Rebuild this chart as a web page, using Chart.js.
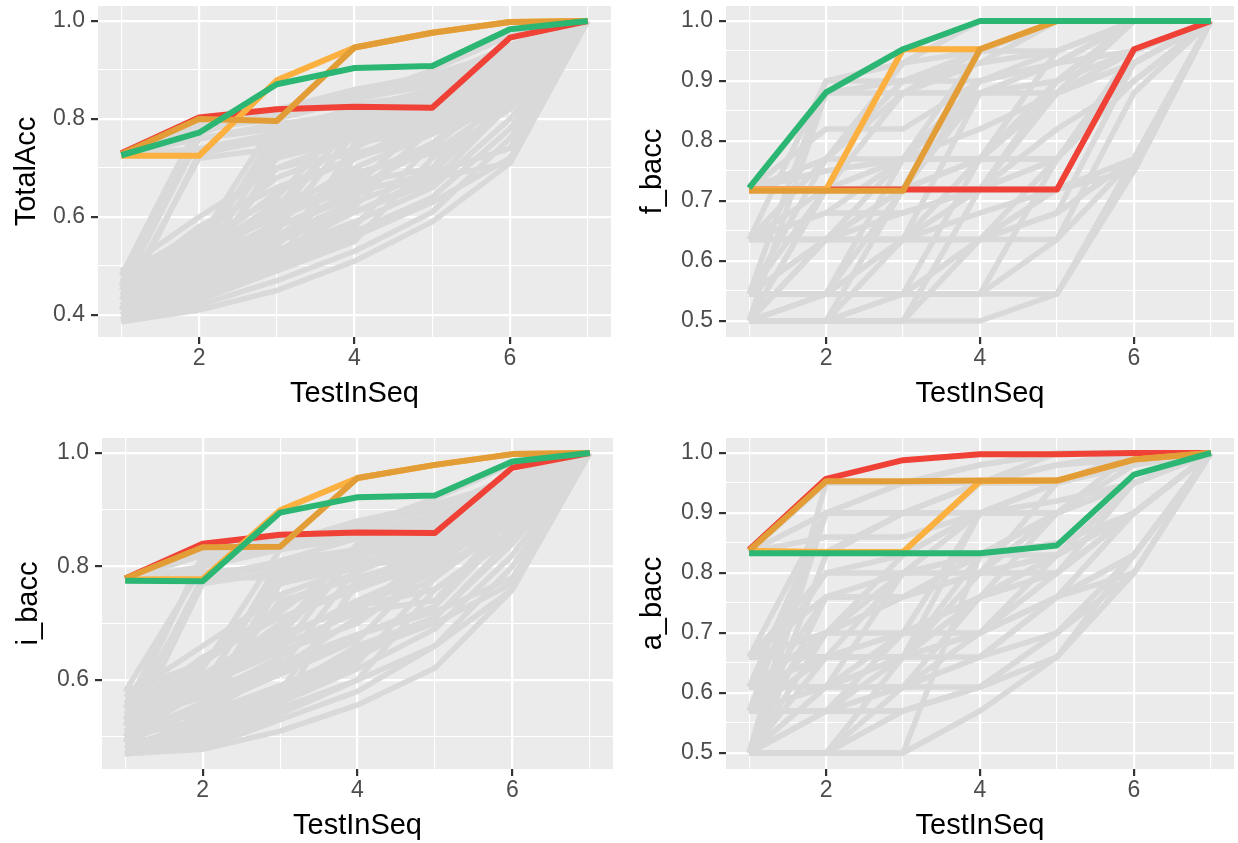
<!DOCTYPE html>
<html><head><meta charset="utf-8">
<script src="https://cdn.jsdelivr.net/npm/chart.js@4.4.1/dist/chart.umd.min.js"></script>
<style>
html,body{margin:0;padding:0;background:#ffffff;}
#wrap{position:relative;width:1238px;height:843px;overflow:hidden;}
canvas{position:absolute;}
</style></head><body><div id="wrap">
<canvas id="c1" width="619" height="421" style="left:0px;top:0px;width:619px;height:421px"></canvas>
<canvas id="c2" width="619" height="421" style="left:619px;top:0px;width:619px;height:421px"></canvas>
<canvas id="c3" width="619" height="422" style="left:0px;top:421px;width:619px;height:422px"></canvas>
<canvas id="c4" width="619" height="422" style="left:619px;top:421px;width:619px;height:422px"></canvas>
</div>
<script>
// ---------- shared axis data ----------
const testInSeq = [1, 2, 3, 4, 5, 6, 7];
const xTickValues = [1, 2, 3, 4, 5, 6, 7];
const xTickLabels = ['', '2', '', '4', '', '6', ''];
const xTitle = 'TestInSeq';

// ---------- TotalAcc ----------
const totalAccTicks = [0.4, 0.5, 0.6, 0.7, 0.8, 0.9, 1.0];
const totalAccTickLabels = ['0.4', '', '0.6', '', '0.8', '', '1.0'];
const totalAccRed = [0.730, 0.803, 0.820, 0.825, 0.823, 0.966, 1.0];
const totalAccLightOrange = [0.725, 0.725, 0.879, 0.946, 0.976, 0.998, 1.0];
const totalAccDarkOrange = [0.728, 0.800, 0.796, 0.946, 0.976, 0.998, 1.0];
const totalAccGreen = [0.726, 0.772, 0.871, 0.904, 0.908, 0.983, 1.0];
const totalAccGrey = [
  [0.725,0.76,0.79,0.81,0.85,0.93,1],
  [0.725,0.74,0.77,0.80,0.82,0.89,1],
  [0.73,0.78,0.80,0.86,0.88,0.95,1],
  [0.725,0.73,0.76,0.79,0.81,0.84,1],
  [0.73,0.79,0.82,0.84,0.90,0.97,1],
  [0.45,0.76,0.78,0.80,0.86,0.93,1],
  [0.48,0.79,0.80,0.84,0.87,0.95,1],
  [0.41,0.73,0.76,0.78,0.81,0.87,1],
  [0.43,0.72,0.74,0.77,0.79,0.85,1],
  [0.46,0.77,0.82,0.86,0.89,0.94,1],
  [0.46,0.79,0.81,0.83,0.85,0.92,1],
  [0.39,0.46,0.73,0.76,0.80,0.87,1],
  [0.44,0.54,0.76,0.79,0.82,0.90,1],
  [0.47,0.52,0.78,0.82,0.86,0.94,1],
  [0.42,0.50,0.75,0.77,0.80,0.84,1],
  [0.45,0.55,0.80,0.85,0.88,0.95,1],
  [0.40,0.48,0.72,0.76,0.78,0.85,1],
  [0.49,0.51,0.62,0.79,0.83,0.90,1],
  [0.41,0.49,0.70,0.73,0.77,0.86,1],
  [0.48,0.57,0.72,0.78,0.81,0.91,1],
  [0.39,0.44,0.50,0.75,0.78,0.86,1],
  [0.42,0.50,0.57,0.78,0.82,0.89,1],
  [0.46,0.53,0.60,0.80,0.84,0.93,1],
  [0.41,0.47,0.54,0.72,0.77,0.83,1],
  [0.44,0.52,0.58,0.77,0.80,0.87,1],
  [0.48,0.55,0.64,0.81,0.86,0.95,1],
  [0.43,0.53,0.65,0.72,0.80,0.91,1],
  [0.47,0.56,0.68,0.74,0.82,0.92,1],
  [0.49,0.60,0.70,0.76,0.83,0.93,1],
  [0.40,0.45,0.52,0.58,0.75,0.85,1],
  [0.43,0.49,0.55,0.62,0.79,0.90,1],
  [0.46,0.53,0.60,0.66,0.81,0.94,1],
  [0.39,0.43,0.49,0.55,0.72,0.82,1],
  [0.45,0.51,0.58,0.64,0.78,0.88,1],
  [0.39,0.47,0.56,0.66,0.74,0.88,1],
  [0.44,0.51,0.61,0.70,0.77,0.90,1],
  [0.46,0.58,0.66,0.72,0.78,0.89,1],
  [0.42,0.52,0.63,0.68,0.75,0.87,1],
  [0.45,0.50,0.59,0.69,0.73,0.84,1],
  [0.39,0.42,0.47,0.53,0.61,0.76,1],
  [0.42,0.47,0.53,0.59,0.66,0.80,1],
  [0.44,0.50,0.56,0.63,0.69,0.84,1],
  [0.47,0.54,0.61,0.67,0.70,0.87,1],
  [0.41,0.45,0.51,0.57,0.64,0.78,1],
  [0.40,0.46,0.53,0.61,0.67,0.83,1],
  [0.386,0.41,0.45,0.51,0.59,0.71,1],
  [0.40,0.44,0.50,0.56,0.63,0.72,1],
  [0.43,0.48,0.55,0.61,0.68,0.71,1],
  [0.45,0.52,0.58,0.65,0.69,0.74,1]
];

// ---------- f_bacc ----------
const fbaccTicks = [0.5, 0.55, 0.6, 0.65, 0.7, 0.75, 0.8, 0.85, 0.9, 0.95, 1.0];
const fbaccTickLabels = ['0.5', '', '0.6', '', '0.7', '', '0.8', '', '0.9', '', '1.0'];
const fbaccRed = [0.719, 0.719, 0.719, 0.719, 0.719, 0.953, 1.0];
const fbaccLightOrange = [0.719, 0.719, 0.953, 0.953, 1.0, 1.0, 1.0];
const fbaccDarkOrange = [0.717, 0.717, 0.717, 0.953, 1.0, 1.0, 1.0];
const fbaccGreen = [0.722, 0.881, 0.953, 1.0, 1.0, 1.0, 1.0];
const fbaccGrey = [
  [0.5,0.5,0.5,0.5,0.545,0.75,1],
  [0.5,0.5,0.5,0.72,0.72,0.77,1],
  [0.5,0.5,0.72,0.72,0.77,0.95,1],
  [0.5,0.72,0.72,0.77,0.95,1,1],
  [0.5,0.5,0.636,0.636,0.68,0.77,1],
  [0.5,0.545,0.545,0.636,0.68,0.93,1],
  [0.5,0.636,0.636,0.77,0.88,0.93,1],
  [0.5,0.5,0.545,0.77,0.9,0.95,1],
  [0.5,0.5,0.545,0.545,0.636,0.88,1],
  [0.5,0.72,0.77,0.9,0.93,1,1],
  [0.5,0.545,0.545,0.545,0.77,0.93,1],
  [0.5,0.636,0.72,0.72,0.82,0.9,1],
  [0.545,0.545,0.545,0.545,0.545,0.77,1],
  [0.545,0.545,0.636,0.636,0.77,0.9,1],
  [0.545,0.72,0.72,0.72,0.9,1,1],
  [0.545,0.545,0.77,0.88,0.93,1,1],
  [0.545,0.636,0.636,0.68,0.72,0.95,1],
  [0.545,0.636,0.72,0.77,0.77,0.93,1],
  [0.545,0.545,0.636,0.72,0.88,1,1],
  [0.545,0.9,0.93,0.95,1,1,1],
  [0.636,0.636,0.636,0.636,0.68,0.77,1],
  [0.636,0.636,0.68,0.72,0.77,0.93,1],
  [0.636,0.72,0.72,0.77,0.88,1,1],
  [0.636,0.636,0.77,0.77,0.95,1,1],
  [0.636,0.77,0.88,0.93,0.95,1,1],
  [0.636,0.636,0.636,0.88,0.9,0.95,1],
  [0.636,0.68,0.68,0.72,0.72,0.75,1],
  [0.636,0.636,0.72,0.9,0.93,1,1],
  [0.636,0.68,0.77,0.82,0.88,0.93,1],
  [0.72,0.72,0.72,0.77,0.77,0.93,1],
  [0.72,0.77,0.77,0.88,0.9,1,1],
  [0.72,0.72,0.88,0.88,0.93,1,1],
  [0.72,0.75,0.77,0.95,1,1,1],
  [0.72,0.88,0.9,0.95,1,1,1],
  [0.72,0.72,0.72,0.95,0.95,1,1],
  [0.72,0.72,0.77,0.77,0.88,0.95,1],
  [0.72,0.82,0.82,0.9,0.95,1,1],
  [0.72,0.77,0.93,1,1,1,1],
  [0.5,0.545,0.72,0.88,0.88,0.93,1],
  [0.5,0.88,0.88,0.95,1,1,1],
  [0.545,0.77,0.9,0.9,0.93,0.95,1],
  [0.636,0.9,0.9,0.93,1,1,1],
  [0.545,0.545,0.545,0.636,0.72,0.75,1],
  [0.5,0.5,0.5,0.636,0.72,0.77,1],
  [0.5,0.636,0.636,0.636,0.636,0.77,1]
];

// ---------- i_bacc ----------
const ibaccTicks = [0.5, 0.6, 0.7, 0.8, 0.9, 1.0];
const ibaccTickLabels = ['', '0.6', '', '0.8', '', '1.0'];
const ibaccRed = [0.779, 0.840, 0.856, 0.860, 0.859, 0.974, 1.0];
const ibaccLightOrange = [0.777, 0.778, 0.899, 0.956, 0.979, 0.998, 1.0];
const ibaccDarkOrange = [0.779, 0.834, 0.835, 0.956, 0.979, 0.998, 1.0];
const ibaccGreen = [0.775, 0.774, 0.895, 0.922, 0.925, 0.985, 1.0];
const ibaccGrey = [
  [0.777,0.80,0.83,0.85,0.88,0.95,1],
  [0.777,0.78,0.81,0.83,0.86,0.91,1],
  [0.777,0.82,0.84,0.88,0.90,0.96,1],
  [0.777,0.79,0.80,0.82,0.84,0.88,1],
  [0.777,0.83,0.85,0.87,0.92,0.98,1],
  [0.52,0.78,0.80,0.83,0.87,0.94,1],
  [0.55,0.81,0.83,0.86,0.89,0.96,1],
  [0.49,0.77,0.79,0.81,0.83,0.89,1],
  [0.58,0.80,0.84,0.88,0.91,0.95,1],
  [0.50,0.78,0.78,0.80,0.82,0.87,1],
  [0.53,0.82,0.84,0.86,0.88,0.94,1],
  [0.47,0.52,0.77,0.80,0.83,0.90,1],
  [0.51,0.59,0.79,0.82,0.85,0.93,1],
  [0.54,0.58,0.81,0.85,0.88,0.95,1],
  [0.49,0.55,0.78,0.80,0.82,0.87,1],
  [0.56,0.62,0.83,0.87,0.90,0.96,1],
  [0.58,0.60,0.68,0.82,0.85,0.92,1],
  [0.49,0.56,0.74,0.78,0.82,0.90,1],
  [0.56,0.63,0.77,0.82,0.85,0.93,1],
  [0.47,0.50,0.55,0.78,0.81,0.88,1],
  [0.50,0.56,0.62,0.80,0.84,0.91,1],
  [0.53,0.59,0.65,0.83,0.86,0.94,1],
  [0.48,0.53,0.58,0.77,0.80,0.86,1],
  [0.55,0.61,0.69,0.84,0.88,0.96,1],
  [0.58,0.63,0.72,0.82,0.87,0.95,1],
  [0.51,0.60,0.70,0.77,0.84,0.93,1],
  [0.55,0.63,0.73,0.79,0.85,0.94,1],
  [0.57,0.66,0.75,0.80,0.86,0.95,1],
  [0.48,0.51,0.57,0.63,0.78,0.88,1],
  [0.51,0.55,0.61,0.67,0.81,0.92,1],
  [0.54,0.60,0.66,0.72,0.83,0.95,1],
  [0.47,0.49,0.54,0.60,0.76,0.85,1],
  [0.57,0.60,0.65,0.70,0.80,0.90,1],
  [0.47,0.54,0.62,0.71,0.78,0.89,1],
  [0.52,0.58,0.67,0.74,0.80,0.91,1],
  [0.54,0.64,0.71,0.76,0.81,0.90,1],
  [0.50,0.58,0.68,0.73,0.79,0.88,1],
  [0.53,0.57,0.64,0.73,0.76,0.86,1],
  [0.47,0.48,0.53,0.58,0.66,0.80,1],
  [0.50,0.53,0.58,0.64,0.71,0.84,1],
  [0.53,0.57,0.62,0.68,0.73,0.87,1],
  [0.56,0.60,0.66,0.72,0.74,0.89,1],
  [0.49,0.51,0.56,0.62,0.69,0.82,1],
  [0.48,0.52,0.58,0.66,0.71,0.85,1],
  [0.47,0.478,0.51,0.556,0.621,0.759,1],
  [0.49,0.50,0.55,0.60,0.66,0.76,1],
  [0.52,0.54,0.59,0.65,0.70,0.77,1],
  [0.55,0.58,0.63,0.68,0.72,0.78,1]
];

// ---------- a_bacc ----------
const abaccTicks = [0.5, 0.55, 0.6, 0.65, 0.7, 0.75, 0.8, 0.85, 0.9, 0.95, 1.0];
const abaccTickLabels = ['0.5', '', '0.6', '', '0.7', '', '0.8', '', '0.9', '', '1.0'];
const abaccRed = [0.839, 0.957, 0.988, 0.998, 0.998, 1.0, 1.0];
const abaccLightOrange = [0.837, 0.835, 0.835, 0.953, 0.954, 0.989, 1.0];
const abaccDarkOrange = [0.837, 0.953, 0.953, 0.954, 0.954, 0.989, 1.0];
const abaccGreen = [0.833, 0.833, 0.833, 0.833, 0.846, 0.964, 1.0];
const abaccGrey = [
  [0.5,0.5,0.5,0.57,0.66,0.8,1],
  [0.5,0.5,0.57,0.61,0.7,0.83,1],
  [0.5,0.57,0.61,0.66,0.76,0.9,1],
  [0.5,0.61,0.66,0.76,0.8,0.95,1],
  [0.5,0.5,0.61,0.7,0.83,0.9,1],
  [0.5,0.66,0.66,0.83,0.9,0.95,1],
  [0.5,0.5,0.5,0.83,0.9,0.95,1],
  [0.5,0.83,0.9,0.95,0.95,1,1],
  [0.5,0.5,0.66,0.76,0.8,0.9,1],
  [0.5,0.61,0.7,0.7,0.76,0.83,1],
  [0.5,0.76,0.76,0.8,0.9,0.95,1],
  [0.5,0.9,0.9,0.9,0.95,1,1],
  [0.57,0.57,0.57,0.61,0.66,0.8,1],
  [0.57,0.61,0.66,0.7,0.8,0.9,1],
  [0.57,0.57,0.7,0.76,0.83,0.95,1],
  [0.57,0.76,0.8,0.83,0.9,1,1],
  [0.57,0.66,0.66,0.9,0.95,1,1],
  [0.57,0.61,0.61,0.76,0.83,0.95,1],
  [0.57,0.7,0.83,0.9,0.95,0.98,1],
  [0.57,0.57,0.66,0.66,0.76,0.9,1],
  [0.61,0.61,0.61,0.66,0.7,0.83,1],
  [0.61,0.66,0.7,0.76,0.83,0.9,1],
  [0.61,0.61,0.8,0.83,0.9,0.95,1],
  [0.61,0.7,0.76,0.8,0.95,1,1],
  [0.61,0.9,0.9,0.95,0.95,1,1],
  [0.61,0.61,0.66,0.8,0.8,0.9,1],
  [0.61,0.8,0.8,0.9,0.9,0.98,1],
  [0.66,0.66,0.66,0.7,0.76,0.83,1],
  [0.66,0.7,0.76,0.8,0.83,0.9,1],
  [0.66,0.66,0.7,0.9,0.9,0.95,1],
  [0.66,0.8,0.83,0.9,0.95,1,1],
  [0.66,0.76,0.76,0.83,0.85,0.9,1],
  [0.66,0.7,0.7,0.76,0.9,0.95,1],
  [0.66,0.9,0.9,0.95,0.98,1,1],
  [0.66,0.66,0.8,0.83,0.83,0.95,1],
  [0.835,0.835,0.9,0.9,0.95,1,1],
  [0.835,0.9,0.95,0.95,0.98,1,1],
  [0.835,0.86,0.86,0.9,0.92,0.95,1],
  [0.835,0.95,0.95,0.98,1,1,1],
  [0.835,0.835,0.835,0.95,0.98,0.99,1],
  [0.5,0.57,0.57,0.61,0.7,0.8,1],
  [0.57,0.57,0.61,0.61,0.66,0.83,1],
  [0.61,0.66,0.66,0.7,0.76,0.8,1],
  [0.5,0.7,0.8,0.8,0.83,0.9,1],
  [0.57,0.9,0.95,0.95,1,1,1],
  [0.5,0.95,0.95,0.98,1,1,1]
];

// ---------- styling ----------
const FONT = "'Liberation Sans', Arial, Helvetica, sans-serif";
const COL_RED = '#EF4136', COL_LORANGE = '#FBB040', COL_DORANGE = '#E39D37', COL_GREEN = '#2BB673', COL_GREY = '#D9D9D9';

const panelBg = {
  id: 'panelBg',
  beforeDraw(chart) {
    const {ctx, chartArea: a} = chart;
    ctx.save(); ctx.fillStyle = '#EBEBEB';
    ctx.fillRect(a.left, a.top, a.right - a.left, a.bottom - a.top);
    ctx.restore();
  }
};

function toPoints(arr) { return arr.map((v, i) => ({x: testInSeq[i], y: v})); }

function makePanel(id, p) {
  const datasets = [];
  const colored = [[p.green, COL_GREEN], [p.dorange, COL_DORANGE], [p.lorange, COL_LORANGE], [p.red, COL_RED]];
  colored.forEach(([d, c]) => datasets.push({data: toPoints(d), borderColor: c, borderWidth: 6}));
  p.grey.forEach(d => datasets.push({data: toPoints(d), borderColor: COL_GREY, borderWidth: 5.5}));
  datasets.forEach(ds => { ds.pointRadius = 0; ds.fill = false; ds.tension = 0; ds.borderJoinStyle = 'round'; ds.borderCapStyle = 'butt'; });

  new Chart(document.getElementById(id), {
    type: 'line',
    data: {datasets},
    options: {
      responsive: false, animation: false, devicePixelRatio: 1, events: [],
      layout: {padding: {left: 0, top: p.padTop, right: p.padRight, bottom: 0}},
      plugins: {legend: {display: false}, tooltip: {enabled: false}},
      scales: {
        x: {
          type: 'linear', min: 0.7, max: 7.3,
          afterBuildTicks: s => { s.ticks = xTickValues.map(v => ({value: v})); },
          afterFit: s => { s.height = p.xHeight; s.paddingLeft = 0; s.paddingRight = 0; },
          ticks: {autoSkip: false, maxRotation: 0, padding: 1, color: '#4D4D4D', font: {family: FONT, size: 23},
                  callback: (v, i) => xTickLabels[i]},
          grid: {color: '#FFFFFF', lineWidth: c => xTickLabels[c.index] ? 2.2 : 1.1,
                 tickColor: c => xTickLabels[c.index] ? '#333333' : 'rgba(0,0,0,0)', tickWidth: 2.2, tickLength: 7},
          border: {display: false},
          title: {display: true, text: xTitle, color: '#000000', font: {family: FONT, size: 29}, padding: {top: 0, bottom: p.xTitlePad}}
        },
        y: {
          type: 'linear', min: p.ymin, max: p.ymax,
          afterBuildTicks: s => { s.ticks = p.ticks.map(v => ({value: v})); },
          afterFit: s => { s.width = p.yWidth; s.paddingTop = 0; s.paddingBottom = 0; },
          ticks: {autoSkip: false, padding: 6, color: '#4D4D4D', font: {family: FONT, size: 23},
                  callback: (v, i) => p.labels[i]},
          grid: {color: '#FFFFFF', lineWidth: c => p.labels[c.index] ? 2.2 : 1.1,
                 tickColor: c => p.labels[c.index] ? '#333333' : 'rgba(0,0,0,0)', tickWidth: 2.2, tickLength: 7},
          border: {display: false},
          title: {display: true, text: p.title, color: '#000000', font: {family: FONT, size: 29}, padding: {top: p.yTitlePad, bottom: 0}}
        }
      }
    },
    plugins: [panelBg]
  });
}

makePanel('c1', {title: 'TotalAcc', ticks: totalAccTicks, labels: totalAccTickLabels, ymin: 0.3551, ymax: 1.0306,
  red: totalAccRed, lorange: totalAccLightOrange, dorange: totalAccDarkOrange, green: totalAccGreen, grey: totalAccGrey,
  yWidth: 98, xHeight: 84, padTop: 6, padRight: 8, yTitlePad: 9.6, xTitlePad: 9.6});
makePanel('c2', {title: 'f_bacc', ticks: fbaccTicks, labels: fbaccTickLabels, ymin: 0.4733, ymax: 1.025,
  red: fbaccRed, lorange: fbaccLightOrange, dorange: fbaccDarkOrange, green: fbaccGreen, grey: fbaccGrey,
  yWidth: 107, xHeight: 84, padTop: 6, padRight: 4, yTitlePad: 16.6, xTitlePad: 9.6});
makePanel('c3', {title: 'i_bacc', ticks: ibaccTicks, labels: ibaccTickLabels, ymin: 0.4432, ymax: 1.0264,
  red: ibaccRed, lorange: ibaccLightOrange, dorange: ibaccDarkOrange, green: ibaccGreen, grey: ibaccGrey,
  yWidth: 102, xHeight: 74, padTop: 17, padRight: 6, yTitlePad: 11.6, xTitlePad: 0});
makePanel('c4', {title: 'a_bacc', ticks: abaccTicks, labels: abaccTickLabels, ymin: 0.4733, ymax: 1.025,
  red: abaccRed, lorange: abaccLightOrange, dorange: abaccDarkOrange, green: abaccGreen, grey: abaccGrey,
  yWidth: 107, xHeight: 74, padTop: 17, padRight: 4, yTitlePad: 16.6, xTitlePad: 0});
</script>
</body></html>
